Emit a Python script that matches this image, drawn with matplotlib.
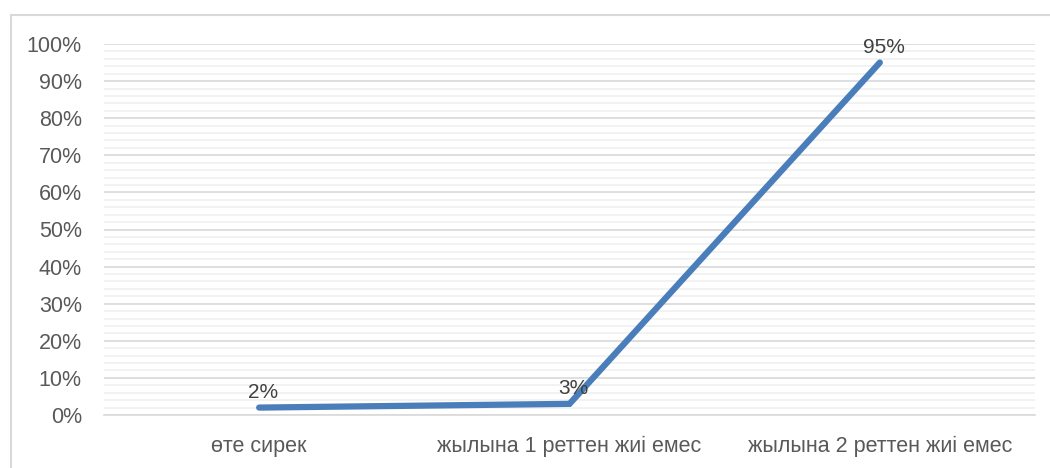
import numpy as np
import matplotlib.pyplot as plt
from matplotlib.patches import Rectangle
from matplotlib.ticker import MultipleLocator, PercentFormatter

categories = ['өте сирек', 'жылына 1 реттен жиі емес', 'жылына 2 реттен жиі емес']
values = [2, 3, 95]

plt.rcParams['font.family'] = ['Liberation Sans', 'DejaVu Sans']

fig = plt.figure(figsize=(10.5, 4.68), dpi=100)
ax = fig.add_axes([104 / 1050, 1 - 415 / 468, 931 / 1050, 371 / 468])

# light frame around the whole chart, open to the right and bottom
fig.patches.append(Rectangle((11 / 1050, -0.05), 1.1, 1 - 15 / 468 + 0.05,
                             transform=fig.transFigure, fill=False,
                             edgecolor='#d9d9d9', linewidth=1.5))

x = np.arange(len(categories))
ax.plot(x, values, color='#4a7ebb', linewidth=4.5, solid_capstyle='round',
        solid_joinstyle='miter', zorder=3)

for xi, v in zip(x, values):
    ax.annotate(f'{v}%', (xi, v), xytext=(3, 4), textcoords='offset points',
                ha='center', va='bottom', fontsize=15, color='#404040', zorder=4)

ax.set_xlim(-0.5, len(categories) - 0.5)
ax.set_ylim(0, 100)
ax.yaxis.set_major_locator(MultipleLocator(10))
ax.yaxis.set_minor_locator(MultipleLocator(2))
ax.yaxis.set_major_formatter(PercentFormatter(decimals=0))
ax.set_xticks(x)
ax.set_xticklabels(categories)

ax.grid(which='major', axis='y', color='#d9d9d9', linewidth=1.2)
ax.grid(which='minor', axis='y', color='#f0f0f0', linewidth=1.2)
ax.set_axisbelow(True)

for side in ['top', 'right', 'left']:
    ax.spines[side].set_visible(False)
ax.spines['bottom'].set_color('#d9d9d9')
ax.spines['bottom'].set_linewidth(1.2)

ax.tick_params(axis='both', which='both', length=0, labelsize=15.5, colors='#595959')
ax.tick_params(axis='y', pad=16)
ax.tick_params(axis='x', pad=15)

fig.savefig('out.png', dpi=100)
